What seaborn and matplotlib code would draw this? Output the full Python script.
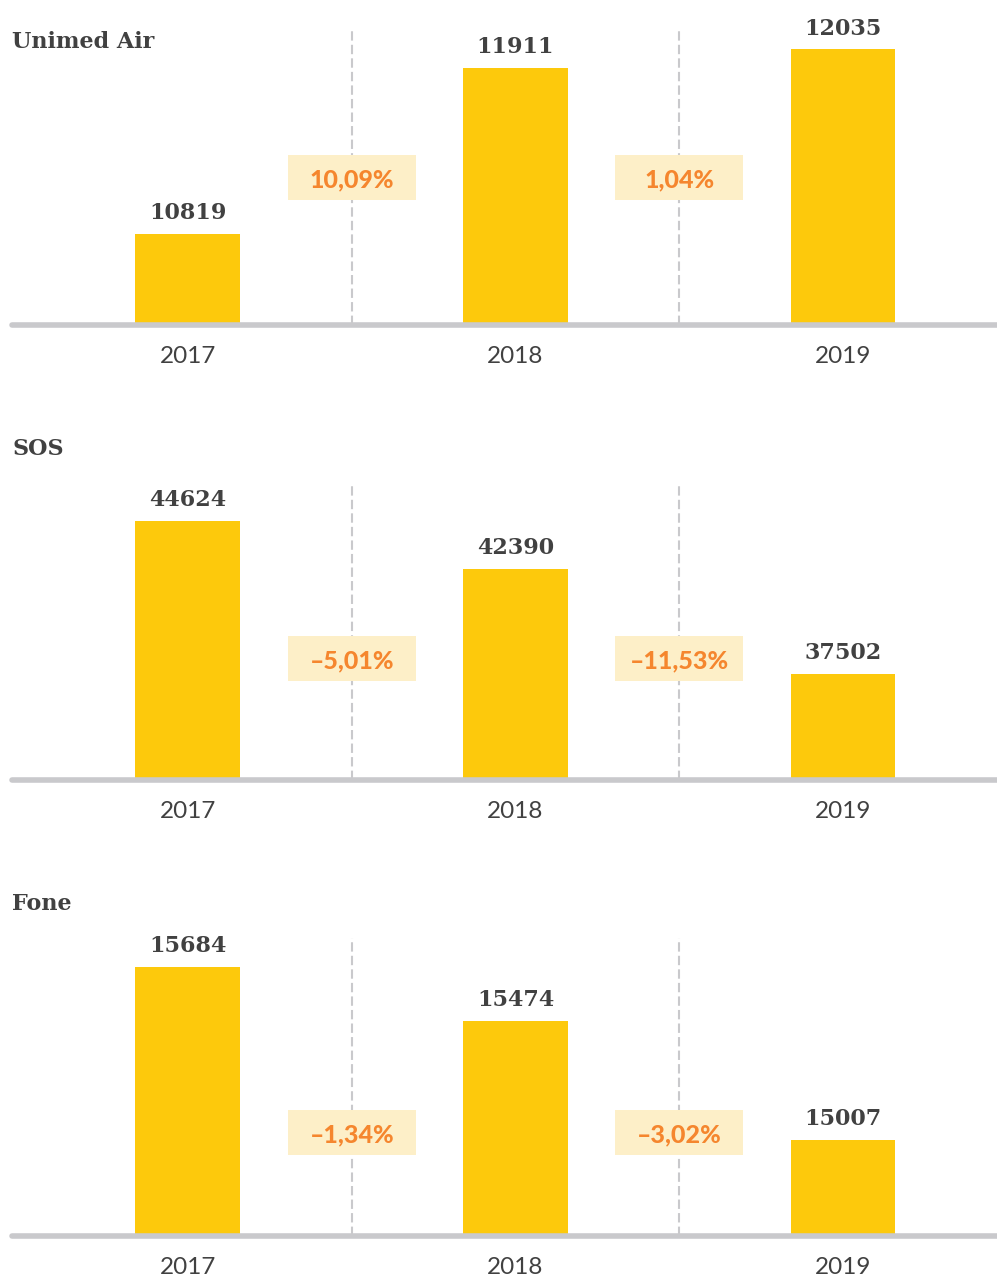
import matplotlib
matplotlib.use("Agg")
import matplotlib.pyplot as plt
import matplotlib.transforms as mtransforms
from matplotlib.patches import Rectangle
import seaborn as sns

# dados
anos = ["2017", "2018", "2019"]
paineis = ["Unimed Air", "SOS", "Fone"]
unimed_air = [10819, 11911, 12035]
sos = [44624, 42390, 37502]
fone = [15684, 15474, 15007]
var_unimed_air = ["10,09%", "1,04%"]
var_sos = ["–5,01%", "–11,53%"]
var_fone = ["–1,34%", "–3,02%"]

valores = [unimed_air, sos, fone]
variacoes = [var_unimed_air, var_sos, var_fone]

# estilo / layout (pixels da figura)
W, H = 997, 1279
amarelo = "#FDC90C"
cinza = "#C9C9CC"
texto = "#414141"
laranja = "#F5862E"
caixa = "#FDEFC8"
topo_px = [28, 483, 938]
base_px = [325, 780, 1236]
titulo_px = [48, 455, 910]
ylims = [(10221, 12175), (32574, 46388), (14629, 15798)]
caixa_y = [0.497, 0.409, 0.347]

sns.set_theme(style="white")
plt.rcParams["font.family"] = ["DejaVu Sans"]

fig = plt.figure(figsize=(W / 100, H / 100), dpi=100)

for i in range(3):
    ax = fig.add_axes([12 / W, 1 - base_px[i] / H, 985 / W, (base_px[i] - topo_px[i]) / H])
    sns.barplot(x=anos, y=valores[i], ax=ax, color=amarelo, width=0.32,
                saturation=1, linewidth=0, zorder=3)
    ax.set_xlim(-0.537, 2.47)
    ax.set_ylim(*ylims[i])
    for s in ax.spines.values():
        s.set_visible(False)
    ax.set_yticks([])
    ax.set_ylabel("")
    ax.set_xlabel("")
    ax.tick_params(axis="x", length=0, pad=15)
    for t in ax.get_xticklabels():
        t.set_fontfamily("Lato")
        t.set_fontweight("normal")
        t.set_fontsize(17.5)
        t.set_color(texto)

    # linha de base
    ax.axhline(ylims[i][0], color=cinza, lw=4, zorder=4, clip_on=False)

    # linhas tracejadas entre os anos
    for xs in [0.5, 1.5]:
        ax.axvline(xs, color=cinza, lw=1.5, dashes=(4.5, 2), zorder=1)

    # rotulos de valor
    ax.bar_label(ax.containers[0], labels=[str(v) for v in valores[i]], padding=7,
                 fontsize=16, fontweight="bold", family="DejaVu Serif", color=texto,
                 clip_on=False)

    # caixas com variacao percentual
    trans = mtransforms.blended_transform_factory(ax.transData, ax.transAxes)
    hbox = 45 / (base_px[i] - topo_px[i])
    for j, xs in enumerate([0.5, 1.5]):
        ax.add_patch(Rectangle((xs - 0.1955, caixa_y[i] - hbox / 2), 0.391, hbox,
                               transform=trans, facecolor=caixa, edgecolor="none",
                               zorder=5))
        ax.text(xs, caixa_y[i], variacoes[i][j], transform=trans, ha="center",
                va="center_baseline", fontsize=18, fontweight="black", family="Lato",
                color=laranja, zorder=6)

    # titulo do painel
    fig.text(12 / W, 1 - titulo_px[i] / H, paineis[i], ha="left", va="baseline",
             fontsize=16, fontweight="bold", family="DejaVu Serif", color=texto)

fig.savefig("out.png", dpi=100, facecolor="white")
